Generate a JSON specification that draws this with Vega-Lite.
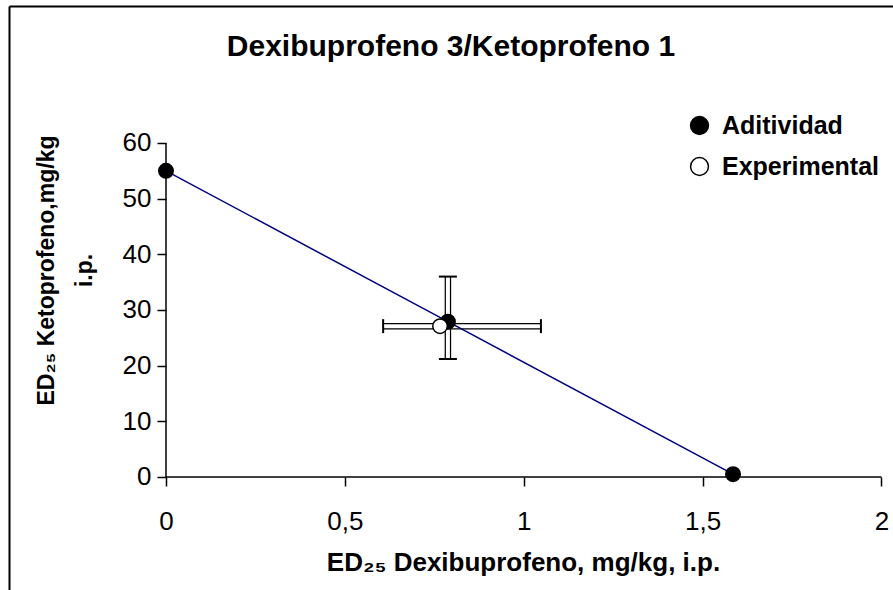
{
  "$schema": "https://vega.github.io/schema/vega-lite/v6.json",
  "width": 884,
  "height": 584,
  "padding": {"left": 9, "top": 6, "right": 0, "bottom": 0},
  "autosize": {"type": "none"},
  "background": "white",
  "config": {
    "view": {"stroke": null},
    "font": "Liberation Sans",
    "axis": {"grid": false, "labelFont": "Liberation Sans", "titleFont": "Liberation Sans", "labelColor": "black", "titleColor": "black", "tickColor": "black", "domainColor": "black"}
  },
  "title": {
    "text": "Dexibuprofeno 3/Ketoprofeno 1",
    "font": "Liberation Sans",
    "fontSize": 30,
    "fontWeight": "bold",
    "color": "black",
    "anchor": "middle",
    "baseline": "alphabetic",
    "offset": -80
  },
  "datasets": {
    "pts": [
      {"serie": "Aditividad", "x": 0, "y": 55},
      {"serie": "Aditividad", "x": 0.788, "y": 27.9, "ylo": 21.2, "yhi": 36.0},
      {"serie": "Aditividad", "x": 1.585, "y": 0.5},
      {"serie": "Experimental", "x": 0.766, "y": 27.1, "xlo": 0.607, "xhi": 1.048}
    ]
  },
  "data": {"name": "pts"},
  "resolve": {"axis": {"x": "independent", "y": "independent"}},
  "layer": [
    {
      "data": {"values": [{"k": 1}]},
      "mark": {"type": "rule", "color": "black", "strokeWidth": 1.5},
      "encoding": {
        "x": {"datum": 0, "type": "quantitative", "scale": {"domain": [-0.43885, 2.03215], "nice": false, "zero": false},
              "axis": {"orient": "top", "domain": true, "domainWidth": 2, "ticks": false, "labels": false, "title": null}},
        "y": {"datum": 0, "type": "quantitative", "scale": {"domain": [-20.3, 84.61], "nice": false, "zero": false},
              "axis": {"orient": "left", "domain": true, "domainWidth": 2, "ticks": false, "labels": false, "title": null}},
        "y2": {"datum": 60}
      }
    },
    {
      "data": {"values": [{"k": 1}]},
      "mark": {"type": "rule", "color": "black", "strokeWidth": 1.5},
      "encoding": {
        "x": {"datum": 0, "type": "quantitative", "scale": {"domain": [-0.43885, 2.03215], "nice": false, "zero": false}, "axis": null},
        "x2": {"datum": 2},
        "y": {"datum": 0, "type": "quantitative", "scale": {"domain": [-20.3, 84.61], "nice": false, "zero": false}, "axis": null}
      }
    },
    {
      "transform": [{"filter": "isValid(datum.ylo)"}],
      "mark": {"type": "rule", "color": "black", "strokeWidth": 6.5},
      "encoding": {
        "x": {"field": "x", "type": "quantitative", "scale": {"domain": [-0.43885, 2.03215], "nice": false, "zero": false}, "axis": null},
        "y": {"field": "ylo", "type": "quantitative", "scale": {"domain": [-20.3, 84.61], "nice": false, "zero": false}, "axis": null},
        "y2": {"field": "yhi"}
      }
    },
    {
      "transform": [{"filter": "isValid(datum.ylo)"}],
      "mark": {"type": "rule", "color": "white", "strokeWidth": 4},
      "encoding": {
        "x": {"field": "x", "type": "quantitative", "scale": {"domain": [-0.43885, 2.03215], "nice": false, "zero": false}, "axis": null},
        "y": {"field": "ylo", "type": "quantitative", "scale": {"domain": [-20.3, 84.61], "nice": false, "zero": false}, "axis": null},
        "y2": {"field": "yhi"}
      }
    },
    {
      "transform": [{"filter": "isValid(datum.xlo)"}],
      "mark": {"type": "rule", "color": "black", "strokeWidth": 6.5},
      "encoding": {
        "x": {"field": "xlo", "type": "quantitative", "scale": {"domain": [-0.43885, 2.03215], "nice": false, "zero": false}, "axis": null},
        "x2": {"field": "xhi"},
        "y": {"field": "y", "type": "quantitative", "scale": {"domain": [-20.3, 84.61], "nice": false, "zero": false}, "axis": null}
      }
    },
    {
      "transform": [{"filter": "isValid(datum.xlo)"}],
      "mark": {"type": "rule", "color": "white", "strokeWidth": 4},
      "encoding": {
        "x": {"field": "xlo", "type": "quantitative", "scale": {"domain": [-0.43885, 2.03215], "nice": false, "zero": false}, "axis": null},
        "x2": {"field": "xhi"},
        "y": {"field": "y", "type": "quantitative", "scale": {"domain": [-20.3, 84.61], "nice": false, "zero": false}, "axis": null}
      }
    },
    {
      "transform": [{"filter": "isValid(datum.ylo)"}, {"fold": ["ylo", "yhi"], "as": ["end", "yend"]}],
      "mark": {"type": "tick", "orient": "horizontal", "color": "black", "size": 18, "thickness": 2, "opacity": 1},
      "encoding": {
        "x": {"field": "x", "type": "quantitative", "scale": {"domain": [-0.43885, 2.03215], "nice": false, "zero": false}, "axis": null},
        "y": {"field": "yend", "type": "quantitative", "scale": {"domain": [-20.3, 84.61], "nice": false, "zero": false}, "axis": null}
      }
    },
    {
      "transform": [{"filter": "isValid(datum.xlo)"}, {"fold": ["xlo", "xhi"], "as": ["end", "xend"]}],
      "mark": {"type": "tick", "orient": "vertical", "color": "black", "size": 14, "thickness": 2, "opacity": 1},
      "encoding": {
        "x": {"field": "xend", "type": "quantitative", "scale": {"domain": [-0.43885, 2.03215], "nice": false, "zero": false}, "axis": null},
        "y": {"field": "y", "type": "quantitative", "scale": {"domain": [-20.3, 84.61], "nice": false, "zero": false}, "axis": null}
      }
    },
    {
      "transform": [{"filter": "datum.serie === 'Aditividad'"}],
      "mark": {"type": "line", "color": "#000080", "strokeWidth": 1.5},
      "encoding": {
        "x": {"field": "x", "type": "quantitative", "scale": {"domain": [-0.43885, 2.03215], "nice": false, "zero": false}, "axis": null},
        "y": {"field": "y", "type": "quantitative", "scale": {"domain": [-20.3, 84.61], "nice": false, "zero": false}, "axis": null},
        "order": {"field": "x"}
      }
    },
    {
      "mark": {"type": "point", "filled": true, "stroke": "black", "strokeWidth": 1.5, "size": 210, "opacity": 1},
      "encoding": {
        "x": {"field": "x", "type": "quantitative", "scale": {"domain": [-0.43885, 2.03215], "nice": false, "zero": false},
              "axis": {"orient": "bottom", "offset": -113, "domain": false, "values": [0, 0.5, 1, 1.5, 2], "tickSize": 9, "tickWidth": 1.5,
                       "labelFontSize": 26, "labelPadding": 22, "labelExpr": "replace(format(datum.value, '~g'), '.', ',')",
                       "title": "ED₂₅ Dexibuprofeno, mg/kg, i.p.", "titleFontSize": 26, "titleFontWeight": "bold", "titlePadding": 15, "titleX": 514}},
        "y": {"field": "y", "type": "quantitative", "scale": {"domain": [-20.3, 84.61], "nice": false, "zero": false},
              "axis": {"orient": "left", "offset": -157, "domain": false, "values": [0, 10, 20, 30, 40, 50, 60], "tickSize": 9, "tickWidth": 1.5,
                       "labelFontSize": 26, "labelPadding": 6,
                       "title": ["ED₂₅ Ketoprofeno,mg/kg", "i.p."], "titleFontSize": 23, "titleFontWeight": "bold", "titleLineHeight": 38, "titlePadding": 26, "titleY": 264}},
        "fill": {"field": "serie", "type": "nominal", "scale": {"domain": ["Aditividad", "Experimental"], "range": ["black", "white"]},
                 "legend": {"title": null, "orient": "none", "legendX": 678, "legendY": 107, "symbolType": "circle", "symbolSize": 320,
                            "symbolStrokeColor": "black", "symbolStrokeWidth": 1.5, "labelFont": "Liberation Sans", "labelFontSize": 25, "labelFontWeight": "bold",
                            "labelColor": "black", "labelOffset": 10, "labelLimit": 400, "rowPadding": 15, "padding": 0}},
        "order": {"field": "serie"}
      }
    }
  ]
}
